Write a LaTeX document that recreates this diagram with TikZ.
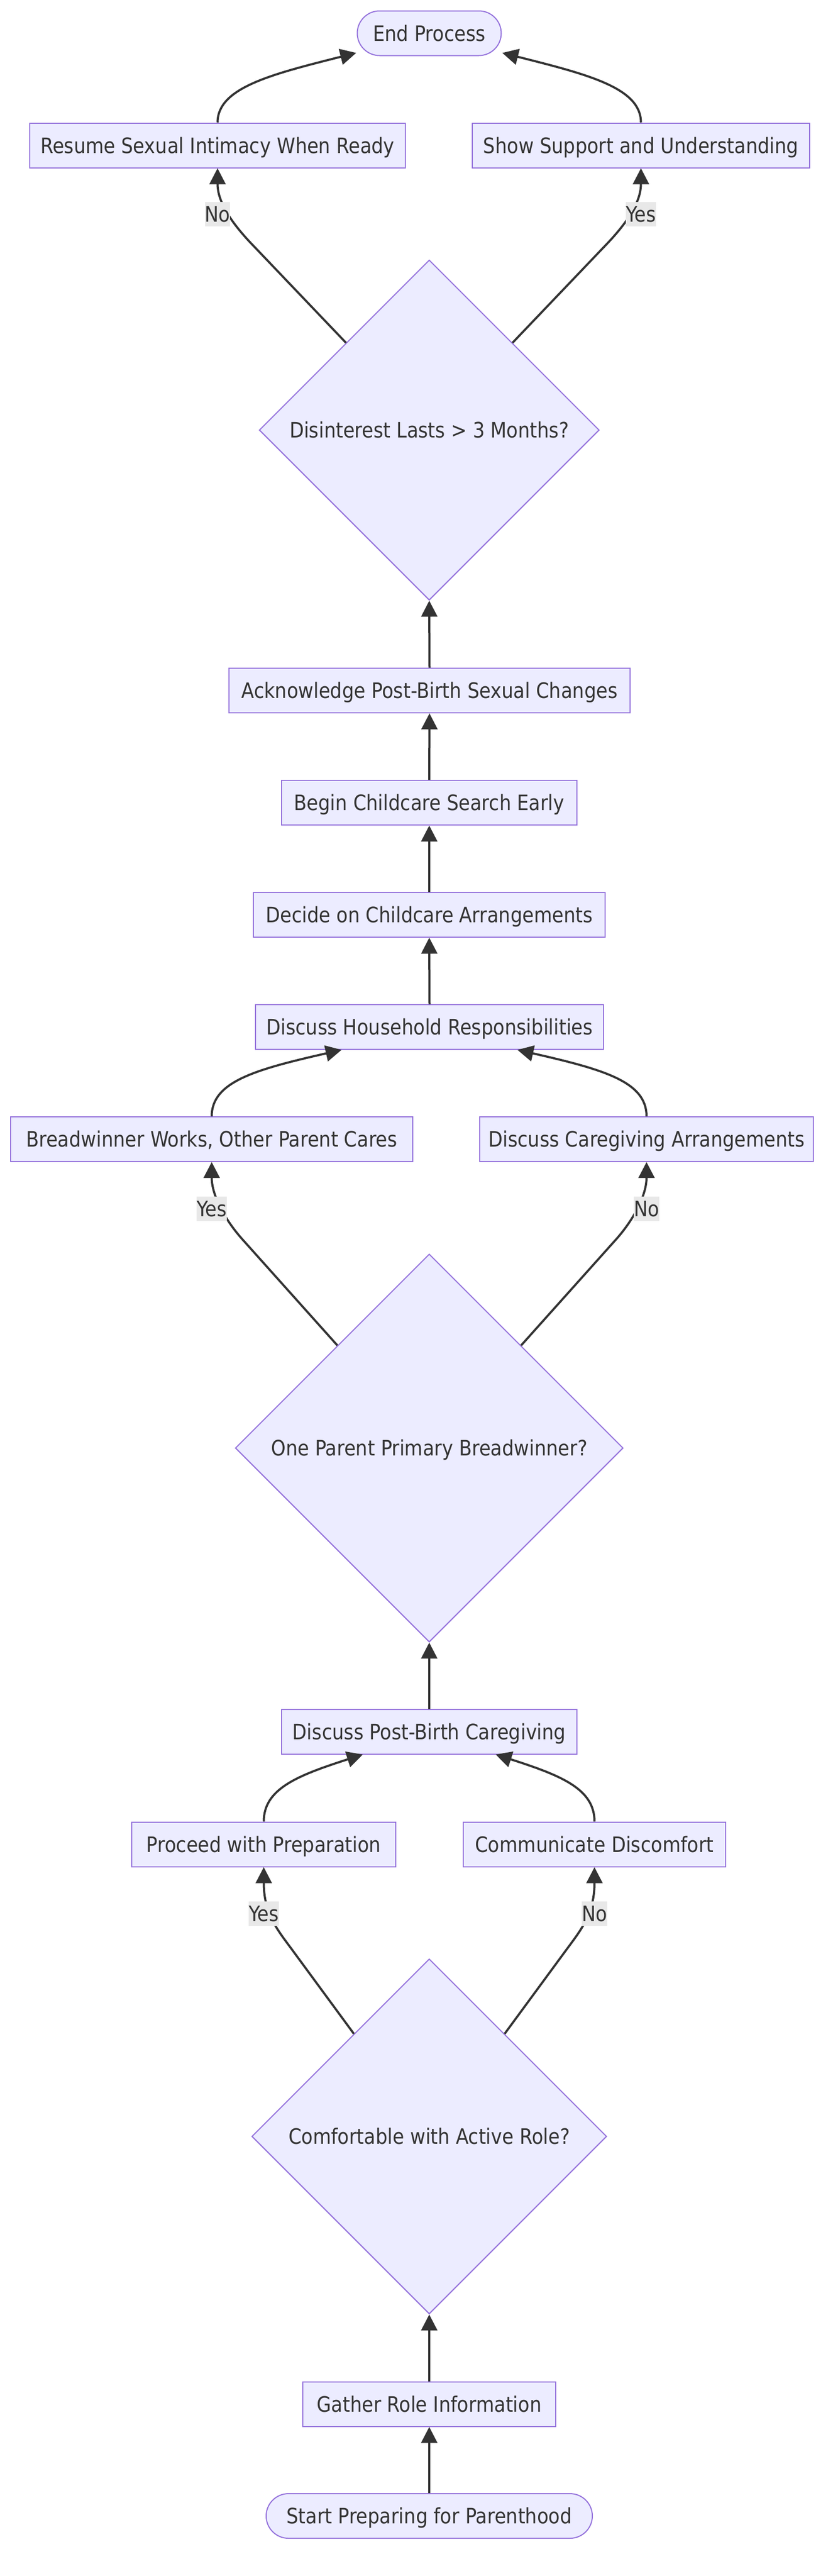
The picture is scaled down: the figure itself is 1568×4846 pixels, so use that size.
\documentclass[tikz,border=0pt]{standalone}
\usepackage{fontspec}
\setmainfont{DejaVu Sans}[FakeStretch=0.88]
\usetikzlibrary{arrows.meta,shapes.geometric}
\definecolor{nfill}{HTML}{ECECFF}
\definecolor{nstroke}{HTML}{9370DB}
\definecolor{ink}{HTML}{333333}
\definecolor{lblbg}{HTML}{E8E8E8}
\begin{document}
\begin{tikzpicture}[x=1pt,y=-1pt,
  every node/.style={font=\fontsize{40}{48}\selectfont, text=ink},
  box/.style={rectangle, draw=nstroke, fill=nfill, line width=2pt, minimum height=84pt, inner sep=0pt, text height=29pt, text depth=0pt},
  term/.style={box, rounded corners=42pt},
  decision/.style={diamond, aspect=1, draw=nstroke, fill=nfill, line width=2pt, inner sep=0pt, text height=29pt, text depth=0pt},
  lbl/.style={fill=lblbg, inner sep=0pt, minimum height=46pt, text height=29pt, text depth=0pt},
  arr/.style={draw=ink, line width=4pt, -{Triangle[length=30pt,width=30pt]}},
]
\fill[white] (0,0) rectangle (1568,4846);
\useasboundingbox (0,0) rectangle (1568,4846);

% nodes
\node[term, minimum width=271pt] (endp) at (808,62.5) {End Process};
\node[box, minimum width=707pt] (resume) at (409.5,273.5) {Resume Sexual Intimacy When Ready};
\node[box, minimum width=635pt] (show) at (1206.5,273.5) {Show Support and Understanding};
\node[decision, minimum width=640pt, minimum height=640pt] (dis) at (808,809) {Disinterest Lasts > 3 Months?};
\node[box, minimum width=755pt] (ack) at (808.5,1299) {Acknowledge Post-Birth Sexual Changes};
\node[box, minimum width=556pt] (search) at (808,1510) {Begin Childcare Search Early};
\node[box, minimum width=662pt] (decide) at (808,1721) {Decide on Childcare Arrangements};
\node[box, minimum width=655pt] (hh) at (808.5,1932) {Discuss Household Responsibilities};
\node[box, minimum width=757pt] (bw) at (398.5,2143) {Breadwinner Works, Other Parent Cares};
\node[box, minimum width=628pt] (cg) at (1217,2143) {Discuss Caregiving Arrangements};
\node[decision, minimum width=730pt, minimum height=730pt] (onep) at (808,2724) {One Parent Primary Breadwinner?};
\node[box, minimum width=556pt] (post) at (808,3257.5) {Discuss Post-Birth Caregiving};
\node[box, minimum width=497pt] (proceed) at (496.5,3469.5) {Proceed with Preparation};
\node[box, minimum width=494pt] (comm) at (1119,3469.5) {Communicate Discomfort};
\node[decision, minimum width=668pt, minimum height=668pt] (comf) at (808,4019) {Comfortable with Active Role?};
\node[box, minimum width=476pt] (gather) at (808,4522.5) {Gather Role Information};
\node[term, minimum width=614pt] (start) at (808,4733) {Start Preparing for Parenthood};

% straight edges
\draw[arr] (start.north) -- (gather.south);
\draw[arr] (gather.north) -- (comf.south);
\draw[arr] (post.north) -- (onep.south);
\draw[arr] (hh.north) -- (decide.south);
\draw[arr] (decide.north) -- (search.south);
\draw[arr] (search.north) -- (ack.south);
\draw[arr] (ack.north) -- (dis.south);

% decision branches
\draw[arr] (dis) -- (470,455) .. controls (428,410) and (409.5,375) .. (resume.south);
\draw[arr] (dis) -- (1146,455) .. controls (1188,410) and (1206.5,375) .. (show.south);
\draw[arr] (onep) -- (455,2330) .. controls (425,2296) and (398.5,2250) .. (bw.south);
\draw[arr] (onep) -- (1161,2330) .. controls (1191,2296) and (1217,2250) .. (cg.south);
\draw[arr] (comf) -- (550,3668) .. controls (522,3630) and (496.5,3600) .. (proceed.south);
\draw[arr] (comf) -- (1066,3668) .. controls (1094,3630) and (1119,3600) .. (comm.south);

% merging edges
\draw[arr] (resume.north) .. controls (409.5,165) and (510,140) .. ([xshift=-1pt,yshift=6pt]endp.south west);
\draw[arr] (show.north) .. controls (1206.5,165) and (1106,140) .. ([xshift=1pt,yshift=6pt]endp.south east);
\draw[arr] (bw.north) .. controls (398.5,2035) and (480,2012) .. ([xshift=-165.5pt]hh.south);
\draw[arr] (cg.north) .. controls (1217,2035) and (1137,2012) .. ([xshift=165.5pt]hh.south);
\draw[arr] (proceed.north) .. controls (496.5,3365) and (560,3340) .. ([xshift=-125pt]post.south);
\draw[arr] (comm.north) .. controls (1119,3365) and (1056,3340) .. ([xshift=125pt]post.south);

% edge labels
\node[lbl] (l1) at (409.5,403) {No};
\node[lbl] (l2) at (1206.5,403) {Yes};
\node[lbl] (l3) at (398.5,2274) {Yes};
\node[lbl] (l4) at (1217,2274) {No};
\node[lbl] (l5) at (496.5,3600) {Yes};
\node[lbl] (l6) at (1119,3600) {No};
\end{tikzpicture}
\end{document}
